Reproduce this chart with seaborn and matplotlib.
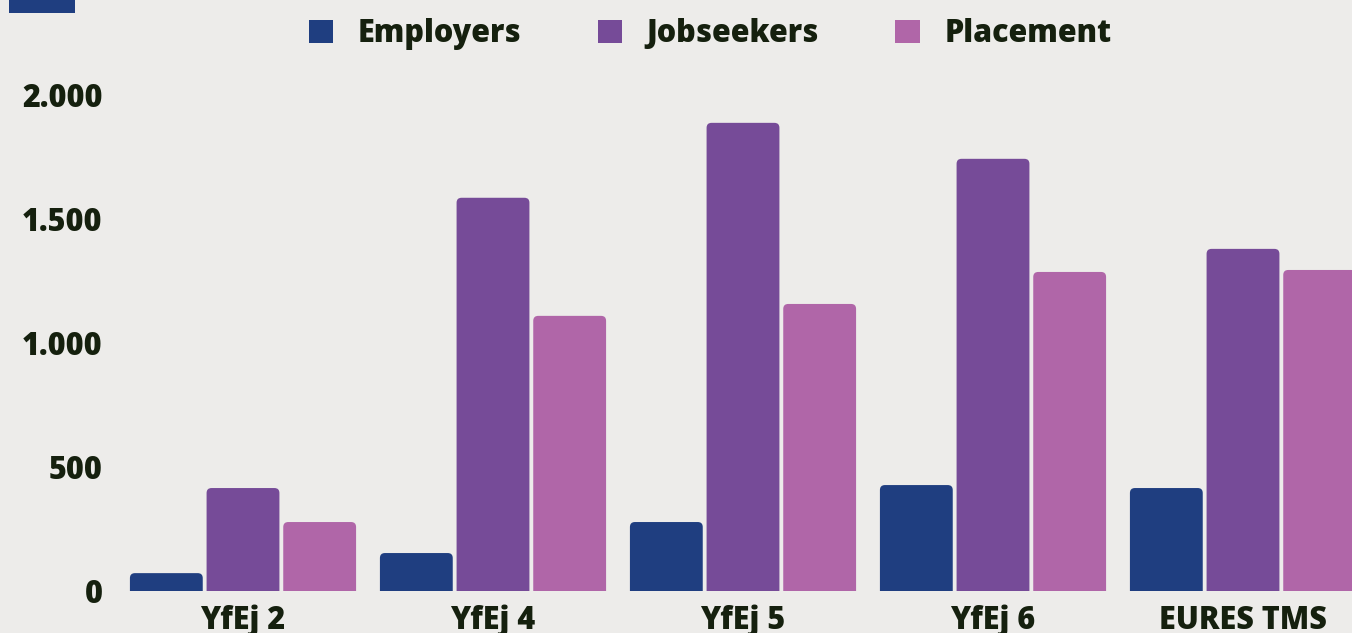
import pandas as pd
import seaborn as sns
import matplotlib.pyplot as plt
from matplotlib.patches import FancyBboxPatch, Patch, Rectangle
from matplotlib.ticker import FuncFormatter

# Data
programs = ['YfEj 2', 'YfEj 4', 'YfEj 5', 'YfEj 6', 'EURES TMS']
employers = [72, 153, 278, 427, 415]
jobseekers = [415, 1585, 1887, 1742, 1379]
placement = [278, 1109, 1157, 1286, 1294]
series = ['Employers', 'Jobseekers', 'Placement']
colors = ['#1f3e80', '#764b98', '#b066a8']

df = pd.DataFrame({
    'Program': programs * 3,
    'Series': [series[0]] * 5 + [series[1]] * 5 + [series[2]] * 5,
    'Count': employers + jobseekers + placement,
})

bg = '#edecea'
txt = '#15200e'

sns.set_theme(style='white')
plt.rcParams['font.family'] = ['Open Sans', 'DejaVu Sans']

fig = plt.figure(figsize=(13.52, 6.33), dpi=100, facecolor=bg)
W, H = 1352, 633
ax = fig.add_axes([115 / W, (H - 591) / H, (W - 115) / W, (591 - 70) / H])
ax.set_facecolor(bg)

sns.barplot(data=df, x='Program', y='Count', hue='Series', palette=colors,
            saturation=1, width=0.92, gap=0.05, legend=False, ax=ax)

# swap the plain bars for ones with rounded tops
for p in list(ax.patches):
    x, y = p.get_xy()
    w, h = p.get_width(), p.get_height()
    fc = p.get_facecolor()
    p.remove()
    ax.add_patch(FancyBboxPatch((x, y - 40), w, h + 40,
                                boxstyle='round,pad=0,rounding_size=0.02',
                                mutation_aspect=1000, fc=fc, ec='none'))

ax.set_xlim(-0.512, 4.436)
ax.set_ylim(0, 2100)
ax.set_yticks([0, 500, 1000, 1500, 2000])
ax.yaxis.set_major_formatter(FuncFormatter(lambda v, _: f'{int(v):,}'.replace(',', '.')))
ax.set_xlabel('')
ax.set_ylabel('')
ax.tick_params(axis='both', length=0, labelsize=22, labelcolor=txt)
ax.tick_params(axis='y', pad=9)
ax.tick_params(axis='x', pad=10)
for lab in ax.get_xticklabels() + ax.get_yticklabels():
    lab.set_fontweight('heavy')
for s in ax.spines.values():
    s.set_visible(False)

handles = [Patch(facecolor=c, edgecolor='none') for c in colors]
fig.legend(handles, series, loc='center', bbox_to_anchor=(710 / W, 1 - 34 / H),
           ncol=3, frameon=False, handlelength=0.8, handleheight=0.8,
           handletextpad=0.8, columnspacing=2.5,
           prop={'size': 22, 'weight': 'heavy'}, labelcolor=txt)

# dark accent block at top-left
fig.patches.append(Rectangle((9 / W, 1 - 13 / H), 66 / W, 13 / H,
                             transform=fig.transFigure, fc='#1f3e80', ec='none'))

fig.savefig('out.png', dpi=100, facecolor=bg)
